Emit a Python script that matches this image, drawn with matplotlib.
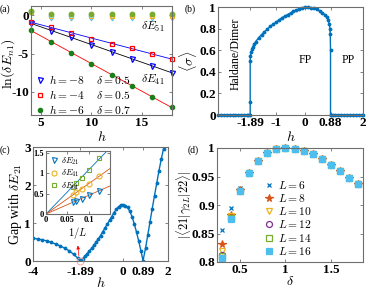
import numpy as np
import matplotlib
matplotlib.use('Agg')
import matplotlib.pyplot as plt

plt.rcParams['font.family'] = ['Liberation Serif', 'DejaVu Serif']
plt.rcParams['mathtext.fontset'] = 'cm'
plt.rcParams['axes.unicode_minus'] = False

# ---------- data (a) ----------
L_a = [4, 6, 8, 10, 12, 14, 16, 18]
e41_tri = [-1.0, -2.05, -2.9, -3.83, -4.78, -5.65, -6.6, -7.48]
e41_sq = [-0.87, -1.6, -2.3, -3.04, -3.7, -4.3, -5.0, -5.74]
e41_dot = [-1.96, -3.48, -4.87, -6.3, -7.73, -9.2, -10.65, -12.0]
e51_tri = [0.3, -0.3, -0.3, -0.3, -0.3, -0.3, -0.3, -0.3]
e51_sq = [0.4, -0.05, -0.05, -0.05, -0.05, -0.05, -0.05, -0.05]
e51_dot = [0.5, 0.2, 0.2, 0.2, 0.2, 0.2, 0.2, 0.2]
leg_a = [r'$h=-8\quad\;\delta=0.5$', r'$h=-4\quad\;\delta=0.5$', r'$h=-6\quad\;\delta=0.7$']

# ---------- data (b) ----------
h_b = [-3.0, -2.9, -2.8, -2.7, -2.6, -2.5, -2.4, -2.3, -2.2, -2.1, -2.0, -1.95, -1.89,
       -1.89, -1.89, -1.88, -1.86, -1.83, -1.8, -1.75, -1.7, -1.6, -1.5, -1.4, -1.3,
       -1.2, -1.1, -1.0, -0.9, -0.8, -0.7, -0.6, -0.5, -0.4, -0.3, -0.2, -0.1, 0.0,
       0.1, 0.2, 0.3, 0.4, 0.5, 0.6, 0.7, 0.75, 0.8, 0.84, 0.86, 0.87, 0.88, 0.88,
       0.88, 0.95, 1.05, 1.15, 1.25, 1.35, 1.45, 1.55, 1.65, 1.75, 1.85, 1.95, 2.0]
sigma_b = [0, 0, 0, 0, 0, 0, 0, 0, 0, 0, 0, 0, 0,
           0.12, 0.5, 0.55, 0.58, 0.61, 0.63, 0.66, 0.68, 0.715, 0.745, 0.77, 0.795,
           0.82, 0.84, 0.86, 0.88, 0.9, 0.915, 0.93, 0.945, 0.96, 0.972, 0.983, 0.992, 1.0,
           0.999, 0.995, 0.988, 0.978, 0.965, 0.948, 0.925, 0.905, 0.88, 0.84, 0.8, 0.75, 0.6,
           0, 0, 0, 0, 0, 0, 0, 0, 0, 0, 0, 0, 0, 0]
b_ticks = [-1.89, -1, 0, 0.88, 2]
b_ticklabels = ['-1.89', '-1', '0', '0.88', '2']

# ---------- data (c) ----------
h_c = [-4.0, -3.8, -3.6, -3.4, -3.2, -3.0, -2.8, -2.6, -2.4, -2.2, -2.0, -1.89, -1.8,
       -1.7, -1.6, -1.5, -1.4, -1.3, -1.2, -1.1, -1.0, -0.9, -0.8, -0.7, -0.6, -0.5,
       -0.4, -0.3, -0.2, -0.1, 0.0, 0.1, 0.2, 0.3, 0.4, 0.5, 0.6, 0.7, 0.8, 0.89, 1.0,
       1.1, 1.2, 1.3, 1.4, 1.5, 1.6, 1.7, 1.8, 1.9]
gap_c = [0.60, 0.58, 0.56, 0.53, 0.49, 0.45, 0.40, 0.34, 0.27, 0.18, 0.07, 0.01, 0.06,
         0.12, 0.19, 0.26, 0.33, 0.41, 0.49, 0.58, 0.67, 0.77, 0.87, 0.97, 1.07, 1.17,
         1.27, 1.36, 1.43, 1.47, 1.48, 1.46, 1.41, 1.31, 1.17, 0.98, 0.76, 0.52, 0.26, 0.01, 0.33,
         0.68, 1.03, 1.38, 1.72, 2.05, 2.38, 2.68, 2.95, 3.2]
c_ticks = [-4, -1.89, 0, 0.89, 2]
c_ticklabels = ['-4', '-1.89', '0', '0.89', '2']

# inset
invL = [1/16, 1/14, 1/12, 1/10, 1/8]
e21_in = [0.30, 0.33, 0.38, 0.46, 0.57]
e41_in = [0.47, 0.53, 0.62, 0.75, 0.93]
e61_in = [0.67, 0.76, 0.89, 1.08, 1.38]

# ---------- data (d) ----------
delta_d = [0.3, 0.4, 0.5, 0.6, 0.7, 0.8, 0.9, 1.0, 1.1, 1.2, 1.3, 1.4, 1.5, 1.6, 1.7, 1.8]
tail_d = [0.957, 0.978, 0.992, 0.998, 1.0, 0.999, 0.995, 0.989, 0.980, 0.970, 0.959, 0.948, 0.936]
ov_L6 = [0.856, 0.895, 0.929, 0.958, 0.978, 0.992, 0.998, 1.0, 0.999, 0.995, 0.989, 0.980, 0.970, 0.959, 0.949, 0.939]
ov_L8 = [0.831, 0.883, 0.926] + tail_d
ov_L10 = [0.819, 0.880, 0.925] + tail_d
ov_L12 = [0.812, 0.878, 0.925] + tail_d
ov_L14 = [0.810, 0.877, 0.924] + tail_d
ov_L16 = [0.807, 0.876, 0.924] + tail_d
L_d = [6, 8, 10, 12, 14, 16]

blue = '#0072BD'
frame = '#6e6e6e'


def style(ax, fs=9.5):
    for s in ax.spines.values():
        s.set_color(frame)
        s.set_linewidth(0.8)
    ax.tick_params(direction='in', top=True, right=True, length=2.5, width=0.6,
                   color=frame, labelsize=fs, pad=1.5)
    for lab in ax.get_xticklabels() + ax.get_yticklabels():
        lab.set_fontweight('bold')


fig = plt.figure(figsize=(3.74, 2.89), dpi=100)

# ---------------- (a) ----------------
ax = fig.add_axes([31/374, 1-115/289, 141/374, 109/289])
ax.plot(L_a, e51_tri, 'v', ms=3.5, mfc='none', mec='#4DBEEE', mew=0.8, clip_on=False)
ax.plot(L_a, e51_sq, 's', ms=3.2, mfc='none', mec='#EDB120', mew=0.8, clip_on=False)
ax.plot(L_a, e51_dot, 'o', ms=3.2, color='#77AC30', clip_on=False)
La = np.array(L_a)
for vals, lc in [(e41_tri, 'k'), (e41_sq, 'b'), (e41_dot, 'r')]:
    p = np.polyfit(La, vals, 1)
    ax.plot(La, np.polyval(p, La), '-', color=lc, lw=0.6)
h1, = ax.plot(L_a, e41_tri, 'v', ms=3.6, mfc='none', mec='b', mew=0.9, clip_on=False)
h2, = ax.plot(L_a, e41_sq, 's', ms=3.3, mfc='none', mec='r', mew=0.9, clip_on=False)
h3, = ax.plot(L_a, e41_dot, 'o', ms=3.0, color='#1A7F1A', clip_on=False)
ax.set_xlim(4, 18)
ax.set_ylim(-13, 1.2)
ax.set_xticks([5, 10, 15])
ax.set_yticks([-10, -5, 0])
ax.set_yticklabels(['-10', '-5', '0'])
ax.text(16.1, -1.5, r'$\delta E_{51}$', fontsize=8.5, ha='center', va='center')
ax.text(16.1, -8.5, r'$\delta E_{41}$', fontsize=8.5, ha='center', va='center')
ax.legend([h1, h2, h3], leg_a, loc='lower left', frameon=False, fontsize=8.3,
          handlelength=0.8, handletextpad=0.4, labelspacing=0.2,
          borderaxespad=0.1, bbox_to_anchor=(-0.01, -0.075))
ax.set_xlabel(r'$h$', fontsize=10, labelpad=1)
ax.set_ylabel(r'$\ln(\delta E_{n1})$', fontsize=10)
ax.yaxis.set_label_coords(-0.1, 0.47)
style(ax)

# ---------------- (b) ----------------
ax = fig.add_axes([218/374, 1-115/289, 145/374, 108/289])
ax.plot(h_b, sigma_b, '.-', color=blue, lw=1.0, ms=3.5, clip_on=False)
ax.set_xlim(-3, 2)
ax.set_ylim(0, 1)
ax.set_xticks(b_ticks)
ax.set_xticklabels(b_ticklabels)
ax.set_yticks([0, 0.2, 0.4, 0.6, 0.8, 1])
ax.set_yticklabels(['0', '0.2', '0.4', '0.6', '0.8', '1'])
ax.text(-2.4, 0.57, 'Haldane/Dimer', rotation=90, fontsize=8.5, ha='center', va='center')
ax.text(0.0, 0.51, 'FP', fontsize=8.5, ha='center', va='center')
ax.text(1.5, 0.51, 'PP', fontsize=8.5, ha='center', va='center')
ax.set_xlabel(r'$h$', fontsize=10, labelpad=1)
ax.set_ylabel(r'$\langle\sigma\rangle$', fontsize=10, labelpad=0)
style(ax)

# ---------------- (c) ----------------
ax = fig.add_axes([33/374, 1-261/289, 135/374, 114/289])
ax.plot(h_c, gap_c, '.-', color=blue, lw=1.0, ms=3.5)
ax.plot([-1.89], [0.0], 'o', ms=5, mfc='none', mec='#ff9999', mew=0.6, clip_on=False)
ax.annotate('', xy=(-2.02, 0.48), xytext=(-1.95, 0.06),
            arrowprops=dict(arrowstyle='-|>', color='r', lw=0.5, mutation_scale=5))
ax.set_xlim(-4, 2)
ax.set_ylim(0, 3)
ax.set_xticks(c_ticks)
ax.set_xticklabels(c_ticklabels)
ax.set_yticks([0, 1, 2, 3])
ax.set_xlabel(r'$h$', fontsize=10, labelpad=-1.5)
ax.set_ylabel(r'Gap with $\delta E_{21}$', fontsize=10, labelpad=0)
style(ax)
ax.tick_params(axis='x', pad=3.5)

# inset
ai = fig.add_axes([46/374, 1-214/289, 64/374, 63/289])
xs = np.array(invL)
xx = np.array([0, 0.15])
for vals, lc in [(e61_in, '#0072BD'), (e41_in, '#D95319'), (e21_in, '#D95319')]:
    v = np.array(vals)
    k = np.sum(xs * v) / np.sum(xs * xs)
    ai.plot(xx, k * xx, '-', color=lc, lw=0.6)
g1, = ai.plot(invL, e21_in, 'v', ms=3.6, mfc='none', mec=blue, mew=0.8)
g2, = ai.plot(invL, e41_in, 'o', ms=3.6, mfc='none', mec='#EDB120', mew=0.8)
g3, = ai.plot(invL, e61_in, 's', ms=3.2, mfc='none', mec='#77AC30', mew=0.8)
ai.set_xlim(0, 0.15)
ai.set_ylim(0, 1.55)
ai.set_xticks([0, 0.05, 0.1])
ai.set_xticklabels(['0', '0.05', '0.1'])
ai.set_yticks([0, 0.5, 1, 1.5])
ai.set_yticklabels(['0', '0.5', '1', '1.5'])
ai.legend([g1, g2, g3], [r'$\delta E_{21}$', r'$\delta E_{41}$', r'$\delta E_{61}$'],
          loc='upper left', frameon=False, fontsize=6.5, handlelength=0.8,
          handletextpad=0.4, labelspacing=0.1, borderaxespad=0.1)
ai.set_xlabel(r'$1/L$', fontsize=7.5, labelpad=1)
style(ai, fs=6)

# ---------------- (d) ----------------
ax = fig.add_axes([217/374, 1-262/289, 146/374, 114/289])
styles_d = [('x', '#0072BD', 'full', 3.5),
            ('*', '#D95319', 'full', 5.5),
            ('v', '#EDB120', 'none', 4.3),
            ('o', '#7E2F8E', 'none', 4.3),
            ('s', '#77AC30', 'none', 3.8),
            ('s', '#4DBEEE', 'full', 3.8)]
for L, vals, (m, c, fill, ms) in zip(L_d, [ov_L6, ov_L8, ov_L10, ov_L12, ov_L14, ov_L16], styles_d):
    if fill == 'none':
        ax.plot(delta_d, vals, m, ms=ms, mfc='none', mec=c, mew=0.9, label=r'$L=%d$' % L,
                clip_on=False)
    else:
        ax.plot(delta_d, vals, m, ms=ms, color=c, mew=0.9, label=r'$L=%d$' % L,
                clip_on=False)
ax.set_xlim(0.25, 1.85)
ax.set_ylim(0.8, 1.0)
ax.set_xticks([0.5, 1, 1.5])
ax.set_xticklabels(['0.5', '1', '1.5'])
ax.set_yticks([0.8, 0.85, 0.9, 0.95, 1])
ax.set_yticklabels(['0.8', '0.85', '0.9', '0.95', '1'])
ax.legend(loc='upper left', bbox_to_anchor=(0.29, 0.76), frameon=False, fontsize=8.3,
          handlelength=0.8, handletextpad=0.4, labelspacing=0.1, borderaxespad=0)
ax.set_xlabel(r'$\delta$', fontsize=10, labelpad=-1)
ax.set_ylabel(r'$|\langle 21|\gamma_{2L}|22\rangle|$', fontsize=9, labelpad=-1)
style(ax)

# panel labels
fig.text(0.0, 0.985, '(a)', fontsize=7, va='top')
fig.text(185/374, 0.985, '(b)', fontsize=7, va='top')
fig.text(0.0, 1-145/289, '(c)', fontsize=7, va='top')
fig.text(188/374, 1-145/289, '(d)', fontsize=7, va='top')

fig.savefig('out.png', dpi=100)
